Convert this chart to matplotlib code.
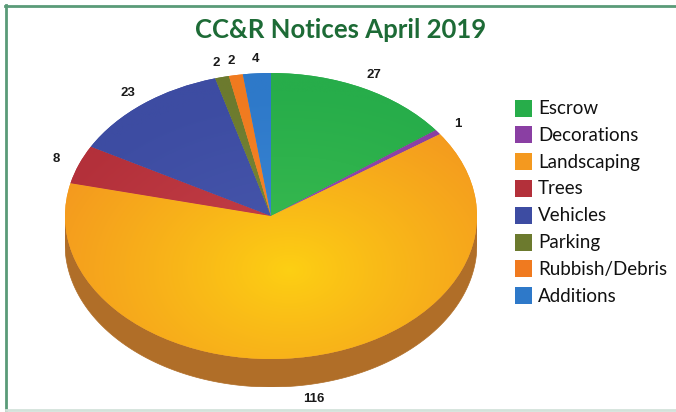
import numpy as np
import matplotlib
matplotlib.use("Agg")
import matplotlib.pyplot as plt
from matplotlib.patches import Rectangle, Polygon
from matplotlib.lines import Line2D
from matplotlib.colors import to_rgb

categories = ["Escrow", "Decorations", "Landscaping", "Trees", "Vehicles",
              "Parking", "Rubbish/Debris", "Additions"]
values = [27, 1, 116, 8, 23, 2, 2, 4]
colors = ["#27ad4a", "#8a3fa3", "#f4991f", "#b3303a", "#3d4ca2",
          "#6c7a2e", "#f07a1f", "#2e79c9"]
highlights = ["#3cbc50", "#9a4fb3", "#fdd013", "#c8424a", "#4858ad",
              "#7c8a3a", "#f68a2c", "#3c88d6"]
side_colors = ["#1d7a35", "#5e2a70", "#b06e28", "#7d2228", "#2a3570",
               "#4a5520", "#a85416", "#20558c"]
title = "CC&R Notices April 2019"

W, H = 676, 412
fig = plt.figure(figsize=(W / 100, H / 100), dpi=100)

# overlay axes in pixel units
ov = fig.add_axes([0, 0, 1, 1])
ov.set_xlim(0, W)
ov.set_ylim(H, 0)
ov.axis("off")

# pie axes
cx, cy, rx, ry, depth = 271, 216, 206, 143, 28
d = depth / ry
ax = fig.add_axes([(cx - rx) / W, (H - (cy + ry + depth)) / H,
                   2 * rx / W, (2 * ry + depth) / H])
wedges, _ = ax.pie(values, colors=colors, startangle=90, counterclock=False,
                   radius=1, wedgeprops=dict(linewidth=0))
for w in wedges:
    w.set_zorder(3)

# side wall for the front half
for w, sc in zip(wedges, side_colors):
    a, b = w.theta1, w.theta2
    for k in (-360, 0, 360):
        lo, hi = max(a + k, 180), min(b + k, 360)
        if hi > lo:
            t = np.radians(np.linspace(lo, hi, 120))
            top = np.column_stack([np.cos(t), np.sin(t)])
            bot = np.column_stack([np.cos(t[::-1]), np.sin(t[::-1]) - d])
            ax.add_patch(Polygon(np.vstack([top, bot]), closed=True,
                                 facecolor=sc, edgecolor=sc, lw=0.5, zorder=1))

# radial shading of the top face
gx, gy = np.meshgrid(np.linspace(-1, 1, 300), np.linspace(-1, 1, 300))
r = np.sqrt((gx - 0.09) ** 2 + (gy + 0.38) ** 2)
tt = np.clip(r / 1.25, 0, 1)[..., None] ** 0.9
for w, base, hl in zip(wedges, colors, highlights):
    img = np.array(to_rgb(hl)) * (1 - tt) + np.array(to_rgb(base)) * tt
    im = ax.imshow(img, extent=(-1, 1, -1, 1), origin="lower", aspect="auto",
                   interpolation="bilinear", zorder=4)
    im.set_clip_path(w)

ax.set_aspect("auto")
ax.set_xlim(-1, 1)
ax.set_ylim(-1 - d, 1)
ax.axis("off")

# value labels
for w, v in zip(wedges, values):
    mid = np.radians((w.theta1 + w.theta2) / 2)
    lx, ly = 1.12 * np.cos(mid), 1.10 * np.sin(mid)
    if ly < 0:
        ly -= d
    ax.text(lx, ly, str(v), ha="center", va="center", fontsize=9.5,
            fontweight="bold", family="Liberation Sans", color="#1a1a1a",
            zorder=6)

# title
ov.text(341, 30, title, ha="center", va="center", fontsize=18.5,
        fontweight="bold", family="Lato", color="#1d6b36")

# legend
for i, (cat, col) in enumerate(zip(categories, colors)):
    y = 108 + i * 26.8
    ov.add_patch(Rectangle((515, y - 8.5), 17, 17, facecolor=col,
                           edgecolor="none"))
    ov.text(538, y + 0.5, cat, ha="left", va="center", fontsize=13.5,
            family="Lato", color="#111111")

# frame lines
ov.add_line(Line2D([5, W], [6, 6], color="#5a9b78", lw=2))
ov.add_line(Line2D([6, 6], [5, 410], color="#5a9b78", lw=2))
ov.add_line(Line2D([6, W], [410, 410], color="#d3e2da", lw=2))

fig.savefig("out.png", dpi=100)
